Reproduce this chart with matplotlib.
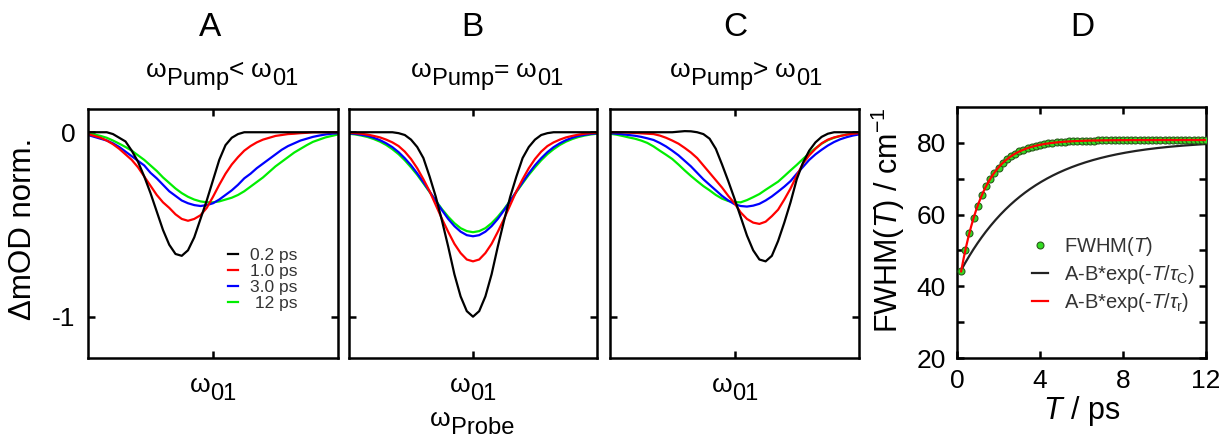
import numpy as np
import matplotlib
matplotlib.use('Agg')
import matplotlib.pyplot as plt

plt.rcParams['font.family'] = ['Liberation Sans', 'DejaVu Sans']
plt.rcParams['mathtext.fontset'] = 'custom'
plt.rcParams['mathtext.rm'] = 'Liberation Sans'
plt.rcParams['mathtext.it'] = 'Liberation Sans:italic'

# probe axis, omega_01 at 0 (arbitrary units)
probe = np.linspace(-1, 1, 41)
delays = ['0.2 ps', '1.0 ps', '3.0 ps', ' 12 ps']
colors = ['black', '#ff0000', '#0000ff', '#00ee00']

# A: pump below omega_01
a_02 = [0.00, 0.00, 0.00, 0.00, -0.01, -0.03, -0.05, -0.10, -0.16, -0.24, -0.33, -0.43, -0.53, -0.61, -0.66, -0.67,
        -0.64, -0.57, -0.47, -0.37, -0.26, -0.15, -0.07, -0.03, -0.01, 0.00, 0.00, 0.00, 0.00, 0.00, 0.00, 0.00,
        0.00, 0.00, 0.00, 0.00, 0.00, 0.00, 0.00, 0.00, 0.00]
a_10 = [-0.01, -0.02, -0.03, -0.045, -0.065, -0.09, -0.12, -0.15, -0.19, -0.24, -0.29, -0.34, -0.38, -0.41, -0.445,
        -0.47, -0.48, -0.47, -0.45, -0.41, -0.35, -0.285, -0.225, -0.175, -0.135, -0.10, -0.075, -0.055, -0.04,
        -0.03, -0.02, -0.015, -0.01, -0.008, -0.005, -0.003, 0.00, 0.00, 0.00, 0.00, 0.00]
a_30 = [-0.015, -0.025, -0.035, -0.045, -0.06, -0.08, -0.105, -0.13, -0.155, -0.18, -0.22, -0.25, -0.285, -0.32,
        -0.345, -0.37, -0.385, -0.395, -0.40, -0.395, -0.385, -0.365, -0.34, -0.315, -0.285, -0.25, -0.225, -0.195,
        -0.17, -0.145, -0.12, -0.095, -0.075, -0.06, -0.045, -0.035, -0.025, -0.018, -0.012, -0.008, -0.005]
a_12 = [-0.005, -0.012, -0.02, -0.03, -0.045, -0.062, -0.08, -0.10, -0.125, -0.15, -0.18, -0.21, -0.245, -0.275,
        -0.305, -0.33, -0.35, -0.365, -0.375, -0.38, -0.38, -0.375, -0.365, -0.355, -0.34, -0.32, -0.295, -0.27,
        -0.245, -0.215, -0.185, -0.16, -0.135, -0.11, -0.09, -0.07, -0.052, -0.04, -0.028, -0.02, -0.012]

# B: pump on resonance
b_02 = [0.00, 0.00, 0.00, 0.00, 0.00, 0.00, 0.00, 0.00, -0.005, -0.015, -0.04, -0.08, -0.14, -0.24, -0.35, -0.48,
        -0.62, -0.77, -0.89, -0.97, -1.00, -0.97, -0.89, -0.77, -0.62, -0.48, -0.35, -0.24, -0.14, -0.08, -0.04,
        -0.015, -0.005, 0.00, 0.00, 0.00, 0.00, 0.00, 0.00, 0.00, 0.00]
b_10 = [-0.003, -0.005, -0.008, -0.013, -0.02, -0.028, -0.04, -0.055, -0.075, -0.105, -0.145, -0.195, -0.255, -0.32,
        -0.395, -0.47, -0.54, -0.605, -0.655, -0.69, -0.70, -0.69, -0.655, -0.605, -0.54, -0.47, -0.395, -0.32,
        -0.255, -0.195, -0.145, -0.105, -0.075, -0.055, -0.04, -0.028, -0.02, -0.013, -0.008, -0.005, -0.003]
b_30 = [-0.006, -0.009, -0.014, -0.02, -0.03, -0.043, -0.06, -0.081, -0.108, -0.141, -0.179, -0.223, -0.271, -0.321,
        -0.373, -0.423, -0.47, -0.509, -0.539, -0.558, -0.564, -0.558, -0.539, -0.509, -0.47, -0.423, -0.373,
        -0.321, -0.271, -0.223, -0.179, -0.141, -0.108, -0.081, -0.06, -0.043, -0.03, -0.02, -0.014, -0.009, -0.006]
b_12 = [-0.008, -0.012, -0.018, -0.026, -0.037, -0.051, -0.069, -0.092, -0.119, -0.152, -0.19, -0.231, -0.277, -0.324,
        -0.371, -0.417, -0.458, -0.493, -0.52, -0.536, -0.542, -0.536, -0.52, -0.493, -0.458, -0.417, -0.371,
        -0.324, -0.277, -0.231, -0.19, -0.152, -0.119, -0.092, -0.069, -0.051, -0.037, -0.026, -0.018, -0.012, -0.008]

# C: pump above omega_01
c_02 = [0.00, 0.00, 0.00, 0.00, 0.00, 0.00, 0.00, 0.00, 0.00, 0.00, 0.00, 0.003, 0.006, 0.005, 0.00, -0.01, -0.035,
        -0.09, -0.175, -0.265, -0.36, -0.46, -0.56, -0.64, -0.69, -0.70, -0.67, -0.59, -0.49, -0.38, -0.255, -0.165,
        -0.10, -0.055, -0.025, -0.008, 0.00, 0.00, 0.00, 0.00, 0.00]
c_10 = [0.00, 0.00, 0.00, -0.002, -0.004, -0.006, -0.008, -0.01, -0.018, -0.03, -0.045, -0.062, -0.085, -0.11, -0.14,
        -0.18, -0.22, -0.26, -0.30, -0.345, -0.385, -0.435, -0.47, -0.49, -0.497, -0.485, -0.455, -0.42, -0.365,
        -0.305, -0.235, -0.17, -0.125, -0.09, -0.06, -0.04, -0.028, -0.02, -0.013, -0.008, -0.005]
c_30 = [-0.005, -0.008, -0.011, -0.015, -0.019, -0.025, -0.033, -0.042, -0.058, -0.077, -0.10, -0.125, -0.155, -0.185,
        -0.22, -0.255, -0.285, -0.315, -0.345, -0.37, -0.39, -0.40, -0.403, -0.398, -0.388, -0.37, -0.348, -0.322,
        -0.295, -0.265, -0.225, -0.188, -0.15, -0.12, -0.095, -0.072, -0.053, -0.038, -0.027, -0.018, -0.012]
c_12 = [-0.008, -0.013, -0.02, -0.028, -0.035, -0.045, -0.058, -0.077, -0.10, -0.122, -0.145, -0.175, -0.207, -0.237,
        -0.265, -0.292, -0.315, -0.34, -0.36, -0.373, -0.379, -0.38, -0.368, -0.352, -0.335, -0.312, -0.29, -0.268,
        -0.238, -0.207, -0.177, -0.145, -0.115, -0.087, -0.062, -0.043, -0.03, -0.02, -0.013, -0.008, -0.005]

# D: spectral width vs waiting time
t_wait = np.round(np.arange(1, 61) * 0.2, 1)
fwhm = [44.2, 50.0, 54.9, 59.1, 62.5, 65.4, 67.9, 70.0, 71.7, 73.1, 74.4, 75.4, 76.3, 77.0, 77.6, 78.1, 78.5, 78.9,
        79.2, 79.4, 79.7, 79.9, 80.0, 80.1, 80.2, 80.3, 80.4, 80.4, 80.5, 80.5, 80.6, 80.6, 80.6, 80.7, 80.7, 80.7,
        80.7, 80.7, 80.7, 80.8, 80.8, 80.8, 80.8, 80.8, 80.8, 80.8, 80.8, 80.8, 80.8, 80.8, 80.8, 80.8, 80.8, 80.8,
        80.8, 80.8, 80.8, 80.8, 80.8, 80.8]
# fit parameters A, B, tau (ps)
fit_c = (80.8, 38.5, 3.4)
fit_r = (80.8, 43.6, 1.15)

W, H = 1231, 438
fig = plt.figure(figsize=(W / 100, H / 100), dpi=100)


def add_ax(l, r, t, b):
    # axes from pixel box (origin top left)
    return fig.add_axes([l / W, 1 - b / H, (r - l) / W, (b - t) / H])


def rich(xc, base, parts, size=19):
    # text pieces on one line, some of them lowered (subscripts), centred on xc
    rend = fig.canvas.get_renderer()
    placed = []
    pos = 0.0
    for s, drop, scale, gap in parts:
        t = fig.text(0, 0, s, fontsize=size * scale, va='baseline', ha='left')
        placed.append((t, pos, drop))
        pos += t.get_window_extent(rend).width + gap
    left = xc - pos / 2
    for t, off, drop in placed:
        t.set_position(((left + off) / W, 1 - (base + drop) / H))


ax_a = add_ax(88, 338, 109, 358)
ax_b = add_ax(349, 597, 109, 358)
ax_c = add_ax(610, 859, 109, 358)
ax_d = add_ax(957, 1206, 107, 358)

panels = [(ax_a, [a_02, a_10, a_30, a_12]),
          (ax_b, [b_02, b_10, b_30, b_12]),
          (ax_c, [c_02, c_10, c_30, c_12])]

for ax, curves in panels:
    lines = [None] * 4
    for i in [3, 2, 1, 0]:
        lines[i], = ax.plot(probe, curves[i], color=colors[i], lw=1.6)
    ax.set_xlim(-1, 1)
    ax.set_ylim(-1.224, 0.126)
    ax.set_xticks([0])
    ax.set_yticks([0, -1])
    ax.set_yticklabels(['0', '-1'])
    ax.tick_params(direction='in', top=True, right=True, length=5, width=1.8,
                   labelbottom=False, labelleft=False, labelsize=19, pad=9)
    for sp in ax.spines.values():
        sp.set_linewidth(1.8)
    if ax is ax_a:
        ax.tick_params(labelleft=True)
        ax.set_ylabel('\u0394mOD norm.', fontsize=22.5)
        ax.yaxis.set_label_coords(-0.2, 0.52)
        ax.legend(lines, delays, loc='upper left', bbox_to_anchor=(0.56, 0.442), frameon=False,
                  fontsize=12.5, handlelength=0.6, handletextpad=0.65, labelspacing=0.05,
                  borderpad=0, borderaxespad=0, labelcolor='#333333')

# panel D
a, b, tau = fit_c
t_fit = np.linspace(0.2, 12, 300)
ln_c, = ax_d.plot(t_fit, a - b * np.exp(-t_fit / tau), color='#222222', lw=1.6, zorder=2)
pts, = ax_d.plot(t_wait, fwhm, 'o', ms=5, mfc='#33dd22', mec='#2a5a1a', mew=0.8, zorder=3)
a, b, tau = fit_r
ln_r, = ax_d.plot(t_fit, a - b * np.exp(-t_fit / tau), color='#ff0000', lw=1.6, zorder=4)
ax_d.set_xlim(0, 12)
ax_d.set_ylim(20, 90)
ax_d.set_xticks([0, 4, 8, 12])
ax_d.set_yticks([20, 40, 60, 80])
ax_d.set_yticks([30, 50, 70], minor=True)
ax_d.tick_params(which='both', direction='in', top=True, right=True, length=5, width=1.8, labelsize=19, pad=8)
for sp in ax_d.spines.values():
    sp.set_linewidth(1.8)
ax_d.set_xlabel('$T$ / ps', fontsize=22)
ax_d.xaxis.set_label_coords(0.5, -0.145)
ax_d.set_ylabel('FWHM($T$) / cm$^{-1}$', fontsize=22)
ax_d.yaxis.set_label_coords(-0.2, 0.55)
ax_d.legend([pts, ln_c, ln_r],
            ['FWHM($T$)', 'A-B*exp(-$T$/$\\tau_\\mathrm{C}$)', 'A-B*exp(-$T$/$\\tau_\\mathrm{r}$)'],
            loc='upper left', bbox_to_anchor=(0.3, 0.49), frameon=False, fontsize=14.5, numpoints=1,
            handlelength=0.8, handletextpad=0.8, labelspacing=0.25, borderpad=0, borderaxespad=0,
            labelcolor='#333333')

# panel letters and pump conditions
for xc, letter in zip([210, 472, 735, 1082], 'ABCD'):
    fig.text(xc / W, 1 - 36 / H, letter, fontsize=24, ha='center', va='baseline')
for xc, rel in zip([222, 487, 746], ['<', '=', '>']):
    rich(xc, 77, [('\u03c9', 0, 1, 0), ('Pump', 8, 0.9, 0), (rel, 0, 1, 7),
                  ('\u03c9', 0, 1, 0), ('01', 8, 0.9, 0)])
for xc in [213, 473, 735]:
    rich(xc, 392, [('\u03c9', 0, 1, 0), ('01', 8, 0.9, 0)])
rich(472, 426, [('\u03c9', 0, 1, 0), ('Probe', 8, 0.9, 0)])

fig.savefig('out.png', dpi=100)
